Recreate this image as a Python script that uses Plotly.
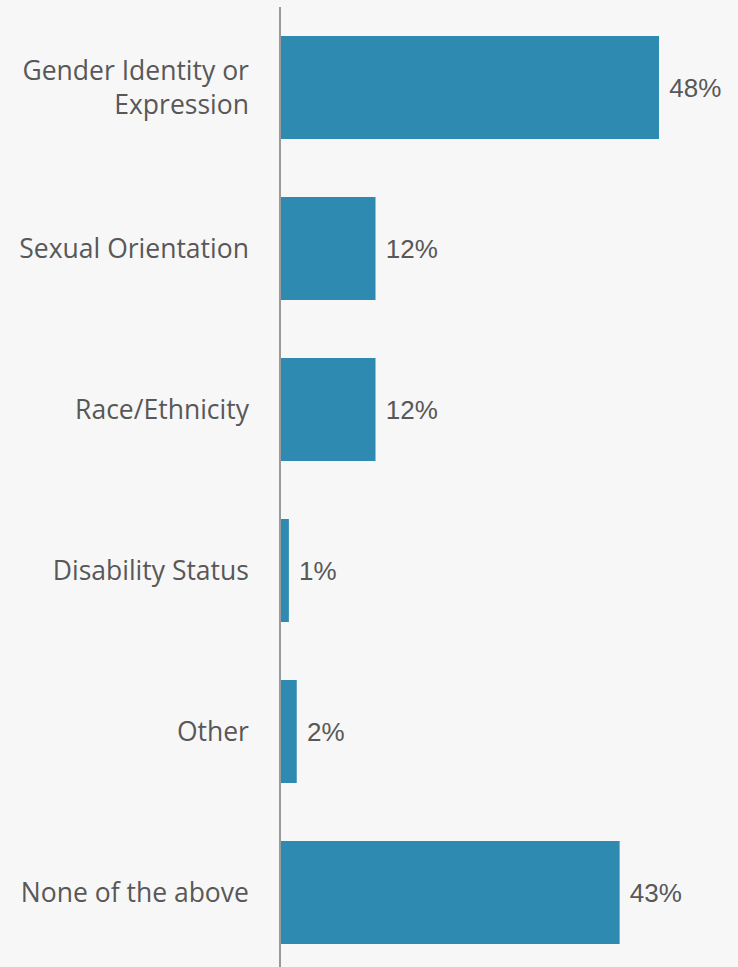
import plotly.graph_objects as go

categories = [
    "Gender Identity or<br>Expression",
    "Sexual Orientation",
    "Race/Ethnicity",
    "Disability Status",
    "Other",
    "None of the above",
]
percentages = [48, 12, 12, 1, 2, 43]

BAR_COLOR = "#2e8ab0"
TEXT_COLOR = "#585858"
BG = "#f7f7f7"

fig = go.Figure(
    go.Bar(
        x=percentages,
        y=categories,
        orientation="h",
        marker=dict(color=BAR_COLOR, line=dict(width=0)),
        texttemplate="\u00a0%{x}%",
        textposition="outside",
        textfont=dict(family="Liberation Sans", size=26, color=TEXT_COLOR),
        cliponaxis=False,
        width=0.64,
    )
)

fig.update_layout(
    width=738,
    height=967,
    margin=dict(l=281, r=0, t=7, b=0),
    paper_bgcolor=BG,
    plot_bgcolor=BG,
    showlegend=False,
    xaxis=dict(
        range=[0, 58.03],
        showgrid=False,
        zeroline=False,
        showticklabels=False,
        showline=False,
    ),
    yaxis=dict(
        autorange=False,
        range=[5.4627, -0.5],
        showgrid=False,
        zeroline=False,
        showline=True,
        linecolor="#9a9a9a",
        linewidth=1.5,
        ticks="",
        ticklabelstandoff=25,
        tickfont=dict(family="Open Sans", size=26.5, color=TEXT_COLOR),
    ),
)

fig.write_html("out.html")
